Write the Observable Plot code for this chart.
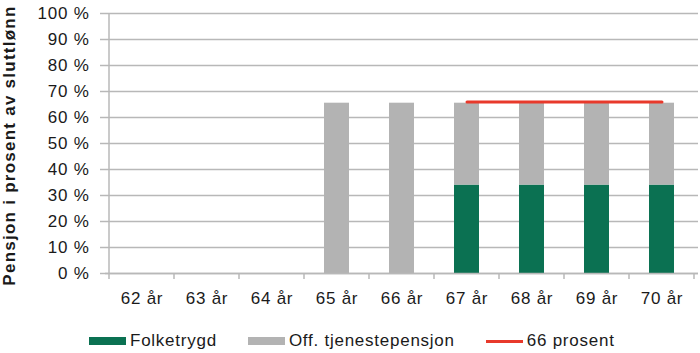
<!DOCTYPE html>
<html>
<head>
<meta charset="utf-8">
<script src="https://cdn.jsdelivr.net/npm/d3@7"></script>
<script src="https://cdn.jsdelivr.net/npm/@observablehq/plot@0.6"></script>
<style>
  html, body { margin: 0; padding: 0; background: #fff; }
  #wrap { position: relative; width: 700px; height: 353px; font-family: "Liberation Sans", Arial, sans-serif; }
  #legend { position: absolute; left: 0; top: 330px; height: 22px; width: 700px; display: flex; align-items: center; padding-left: 89px; box-sizing: border-box; font-size: 17px; letter-spacing: 0.75px; color: #1a1a1a; }
  .item { display: flex; align-items: center; margin-right: 31px; }
  .sw { width: 37px; margin-right: 4px; }
</style>
</head>
<body>
<div id="wrap">
  <div id="chart"></div>
  <div id="legend"></div>
</div>
<script>
const ages = ["62 år", "63 år", "64 år", "65 år", "66 år", "67 år", "68 år", "69 år", "70 år"];
const folketrygd = [0, 0, 0, 0, 0, 34, 34, 34, 34];
const tjenestepensjon = [0, 0, 0, 65.5, 65.5, 31.5, 31.5, 31.5, 31.5];
const prosent66 = [null, null, null, null, null, 66, 66, 66, 66];
const seriesNames = ["Folketrygd", "Off. tjenestepensjon", "66 prosent"];
const seriesColors = ["#0b7152", "#b3b3b3", "#e8392b"];
const yTicks = [0, 10, 20, 30, 40, 50, 60, 70, 80, 90, 100];
const yLabel = "Pensjon i prosent av sluttlønn";

const barRows = [];
ages.forEach((a, i) => {
  barRows.push({age: a, series: seriesNames[0], value: folketrygd[i]});
  barRows.push({age: a, series: seriesNames[1], value: tjenestepensjon[i]});
});
const lineRows = ages.map((a, i) => ({age: a, value: prosent66[i]})).filter(d => d.value != null);

const gridColor = "#b8b8b8";

// boundary tick marks & left axis line, drawn through the x band scale
function bandTicks(index, scales, values, dims) {
  const X = scales.x, Y = scales.y;
  const step = typeof X.step === "function" ? X.step() : X(ages[1]) - X(ages[0]);
  const bw = typeof X.bandwidth === "function" ? X.bandwidth() : 0;
  const edges = ages.map(a => X(a) - (step - bw) / 2);
  edges.push(edges[edges.length - 1] + step);
  const y0 = Y(0);
  const g = d3.create("svg:g").attr("stroke", gridColor).attr("stroke-width", 1.5);
  for (const e of edges) {
    g.append("line").attr("x1", e).attr("x2", e).attr("y1", y0).attr("y2", y0 + 6);
  }
  g.append("line").attr("x1", edges[0]).attr("x2", edges[0]).attr("y1", Y(100)).attr("y2", y0);
  return g.node();
}

const chart = Plot.plot({
  width: 700,
  height: 320,
  marginTop: 13,
  marginBottom: 47,
  marginLeft: 105,
  marginRight: 2,
  style: {fontFamily: "'Liberation Sans', Arial, sans-serif", fontSize: "17px", letterSpacing: "0.75px", color: "#1a1a1a", background: "#fff", overflow: "visible"},
  x: {domain: ages, paddingInner: 0.62, paddingOuter: 0.31, align: 0.5},
  y: {domain: [0, 100]},
  color: {domain: seriesNames, range: seriesColors},
  marks: [
    Plot.gridY(yTicks, {stroke: gridColor, strokeOpacity: 1, strokeWidth: 1.5}),
    Plot.axisY(yTicks, {tickSize: 5, tickPadding: 11, tickFormat: d => `${d} %`, stroke: gridColor, strokeWidth: 1.5, label: null, fill: "#1a1a1a"}),
    Plot.axisX({tickSize: 0, tickPadding: 18, label: null, fill: "#1a1a1a"}),
    Plot.barY(barRows, {x: "age", y: "value", fill: "series"}),
    Plot.ruleY([0], {stroke: gridColor, strokeWidth: 1.5}),
    bandTicks,
    Plot.lineY(lineRows, {x: "age", y: "value", stroke: seriesColors[2], strokeWidth: 3}),
    Plot.text([yLabel], {frameAnchor: "left", textAnchor: "middle", rotate: -90, dx: -96, dy: 2, fontWeight: "bold", fontSize: 17, fill: "#1a1a1a", style: "letter-spacing:1.25px"})
  ]
});
document.getElementById("chart").appendChild(chart);
chart.querySelectorAll("text").forEach(t => { if (t.textContent === yLabel) t.style.letterSpacing = "1.25px"; });

const legend = document.getElementById("legend");
seriesNames.forEach((name, i) => {
  const item = document.createElement("div");
  item.className = "item";
  const sw = document.createElement("div");
  sw.className = "sw";
  sw.style.background = seriesColors[i];
  sw.style.height = i === 2 ? "3px" : "8px";
  const t = document.createElement("span");
  t.textContent = name;
  item.appendChild(sw);
  item.appendChild(t);
  legend.appendChild(item);
});
</script>
</body>
</html>
